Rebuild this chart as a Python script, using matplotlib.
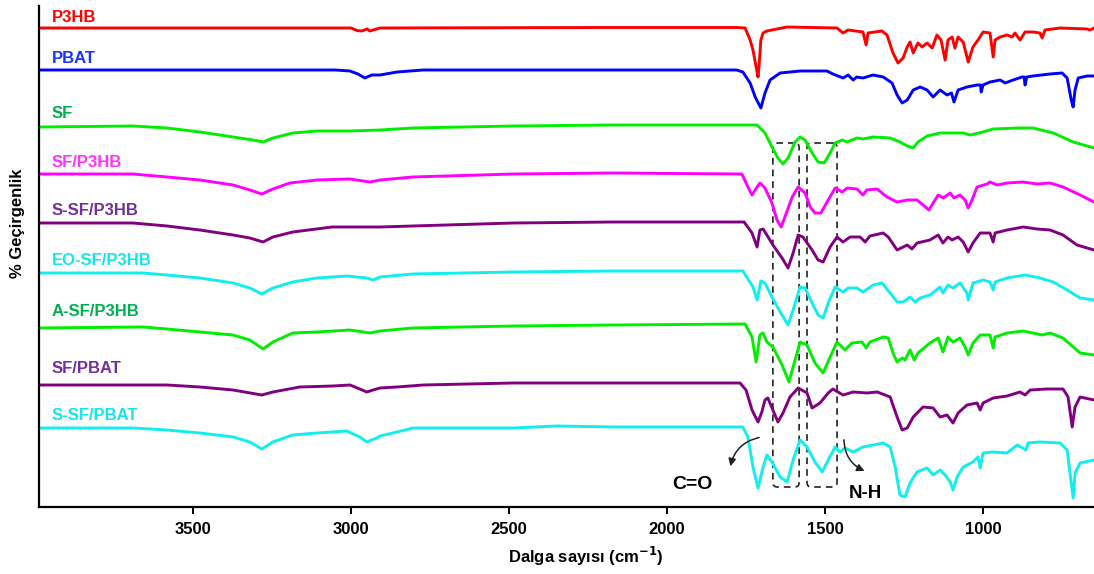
import matplotlib
matplotlib.use("Agg")
import matplotlib.pyplot as plt
import numpy as np
from matplotlib.patches import FancyBboxPatch

plt.rcParams['font.family'] = ['Liberation Sans', 'DejaVu Sans']
plt.rcParams['font.weight'] = 'bold'

# FTIR spectra, (wavenumber cm-1, stacked signal)
p3hb = [(3987, 28), (3100, 28), (3000, 28), (2981, 30.5), (2966, 31), (2949, 29), (2940, 31),
        (2908, 28), (2200, 27.5), (1780, 27.5), (1753, 28), (1737, 40), (1728, 50), (1718, 67),
        (1712, 77), (1709, 67), (1703, 40), (1696, 33), (1684, 31), (1620, 27), (1462, 28),
        (1443, 33), (1427, 30), (1380, 32), (1370, 45), (1364, 33), (1342, 32), (1320, 31),
        (1304, 35), (1285, 53), (1269, 63), (1253, 58), (1240, 47), (1231, 42), (1221, 53),
        (1206, 43), (1193, 47), (1177, 43), (1161, 48), (1146, 35), (1133, 40), (1120, 60),
        (1111, 40), (1098, 37), (1089, 48), (1079, 37), (1063, 42), (1047, 62), (1032, 47),
        (1016, 40), (1000, 32), (978, 33), (968, 57), (962, 40), (946, 37), (924, 35), (908, 37),
        (899, 33), (883, 40), (867, 32), (842, 32), (820, 33), (813, 38), (804, 30), (756, 28),
        (671, 29), (661, 30), (649, 28)]

pbat = [(3987, 70), (3400, 70), (3050, 70), (3003, 71), (2978, 74), (2956, 78), (2934, 75),
        (2908, 75), (2854, 72), (2772, 70), (1780, 70), (1760, 72), (1737, 83), (1721, 97),
        (1703, 108), (1690, 93), (1674, 80), (1642, 73), (1579, 71), (1494, 71), (1475, 74),
        (1443, 78), (1427, 75), (1411, 80), (1400, 77), (1380, 78), (1348, 75), (1316, 77),
        (1288, 83), (1272, 95), (1256, 103), (1240, 100), (1221, 90), (1199, 87), (1177, 90),
        (1158, 97), (1136, 90), (1114, 95), (1100, 93), (1092, 102), (1079, 90), (1051, 87),
        (1019, 85), (1008, 85), (1006, 92), (1000, 85), (978, 82), (946, 80), (930, 83),
        (905, 80), (877, 77), (870, 77), (867, 85), (862, 77), (842, 76), (788, 74), (750, 73),
        (734, 78), (721, 100), (715, 107), (709, 90), (699, 78), (671, 76), (649, 76)]

sf = [(3987, 127), (3690, 126), (3582, 128), (3478, 132), (3373, 137), (3310, 140), (3278, 142),
      (3247, 138), (3184, 133), (3108, 131), (3003, 131), (2908, 130), (2804, 128), (2487, 126),
      (2171, 125), (1715, 125), (1690, 133), (1668, 147), (1649, 158), (1633, 164), (1617, 158),
      (1595, 142), (1579, 137), (1563, 140), (1541, 153), (1522, 162), (1503, 163), (1484, 153),
      (1468, 143), (1446, 140), (1430, 142), (1399, 138), (1380, 139), (1348, 137), (1294, 138),
      (1263, 142), (1240, 146), (1221, 148), (1206, 142), (1177, 136), (1136, 133), (1100, 133),
      (1063, 133), (1041, 135), (1000, 132), (968, 129), (892, 128), (842, 128), (778, 133),
      (715, 142), (649, 148)]

sf_p3hb = [(3987, 174), (3690, 174), (3582, 177), (3478, 180), (3373, 185), (3320, 190),
           (3282, 194), (3247, 189), (3193, 183), (3108, 180), (3003, 179), (2940, 182),
           (2908, 180), (2804, 177), (2487, 174), (2171, 173), (1763, 174), (1744, 187),
           (1731, 195), (1715, 187), (1706, 183), (1690, 188), (1668, 203), (1652, 220),
           (1639, 227), (1627, 217), (1604, 197), (1585, 187), (1563, 193), (1547, 207),
           (1532, 213), (1513, 213), (1490, 200), (1468, 188), (1446, 192), (1430, 188),
           (1399, 189), (1380, 195), (1368, 190), (1335, 189), (1304, 197), (1272, 202),
           (1240, 200), (1209, 200), (1190, 205), (1171, 210), (1158, 203), (1142, 195),
           (1126, 198), (1104, 193), (1092, 198), (1073, 195), (1057, 200), (1047, 208),
           (1035, 200), (1019, 187), (987, 184), (978, 182), (956, 185), (924, 183), (873, 182),
           (829, 184), (788, 183), (747, 187), (693, 195), (649, 202)]

s_sf_p3hb = [(3987, 223), (3690, 223), (3582, 226), (3478, 230), (3373, 235), (3320, 238),
             (3278, 242), (3247, 237), (3184, 232), (3060, 227), (2908, 227), (2804, 226),
             (2487, 223), (2171, 222), (1756, 222), (1731, 233), (1715, 247), (1706, 230),
             (1696, 229), (1684, 235), (1665, 245), (1636, 258), (1617, 268), (1601, 253),
             (1585, 235), (1570, 237), (1541, 250), (1522, 260), (1506, 262), (1484, 247),
             (1462, 237), (1443, 242), (1421, 237), (1389, 237), (1373, 242), (1358, 236),
             (1316, 233), (1300, 237), (1272, 250), (1240, 245), (1225, 249), (1209, 243),
             (1168, 240), (1142, 235), (1127, 243), (1111, 237), (1098, 240), (1079, 237),
             (1063, 242), (1047, 252), (1032, 243), (1009, 233), (978, 233), (968, 242),
             (962, 233), (924, 230), (873, 227), (829, 229), (788, 230), (747, 235), (703, 245),
             (649, 250)]

eo_sf_p3hb = [(3987, 273), (3660, 273), (3582, 275), (3478, 278), (3373, 283), (3320, 288),
              (3282, 294), (3247, 288), (3184, 282), (3108, 278), (3013, 276), (2950, 278),
              (2930, 280), (2908, 277), (2804, 274), (2487, 272), (2171, 271), (1760, 271),
              (1728, 287), (1715, 300), (1703, 281), (1690, 283), (1668, 297), (1642, 312),
              (1617, 325), (1601, 310), (1579, 287), (1563, 288), (1541, 303), (1522, 315),
              (1506, 318), (1490, 303), (1468, 287), (1443, 292), (1427, 288), (1399, 288),
              (1380, 292), (1348, 285), (1320, 283), (1294, 293), (1272, 302), (1253, 302),
              (1231, 297), (1215, 302), (1199, 298), (1168, 295), (1136, 287), (1127, 293),
              (1111, 285), (1095, 288), (1073, 283), (1051, 293), (1047, 300), (1032, 283),
              (1000, 280), (978, 282), (968, 290), (962, 282), (924, 278), (867, 275),
              (820, 278), (778, 282), (734, 290), (693, 298), (649, 300)]

a_sf_p3hb = [(3987, 328), (3660, 327), (3582, 329), (3478, 332), (3373, 335), (3320, 340),
             (3278, 349), (3247, 342), (3184, 333), (3108, 332), (3003, 330), (2940, 333),
             (2908, 331), (2804, 328), (2487, 326), (2171, 325), (1753, 324), (1731, 337),
             (1718, 362), (1706, 335), (1696, 333), (1684, 342), (1665, 347), (1636, 365),
             (1614, 382), (1601, 367), (1579, 342), (1557, 345), (1532, 363), (1506, 373),
             (1484, 357), (1462, 342), (1437, 350), (1415, 343), (1383, 342), (1370, 348),
             (1358, 342), (1316, 337), (1300, 338), (1285, 353), (1272, 362), (1256, 358),
             (1247, 360), (1231, 350), (1218, 360), (1206, 353), (1168, 343), (1142, 338),
             (1127, 352), (1111, 337), (1095, 342), (1073, 338), (1057, 347), (1047, 355),
             (1032, 343), (1009, 335), (978, 335), (968, 348), (962, 337), (924, 333),
             (873, 331), (813, 335), (788, 333), (747, 338), (693, 353), (649, 355)]

sf_pbat = [(3987, 385), (3582, 385), (3478, 387), (3373, 390), (3282, 395), (3247, 392),
           (3162, 387), (3057, 386), (3003, 385), (2972, 389), (2950, 392), (2930, 390),
           (2908, 388), (2854, 387), (2772, 385), (2487, 383), (2171, 383), (1769, 383),
           (1750, 390), (1731, 410), (1712, 422), (1700, 412), (1690, 400), (1681, 398),
           (1665, 410), (1649, 422), (1633, 413), (1611, 397), (1585, 388), (1557, 393),
           (1541, 408), (1516, 403), (1490, 393), (1475, 389), (1443, 395), (1411, 392),
           (1367, 393), (1335, 392), (1294, 397), (1272, 417), (1256, 430), (1240, 428),
           (1221, 417), (1190, 407), (1158, 408), (1136, 417), (1114, 415), (1095, 423),
           (1079, 413), (1051, 405), (1019, 403), (1009, 410), (1000, 403), (968, 398),
           (924, 396), (883, 392), (867, 395), (851, 390), (797, 389), (747, 389), (731, 397),
           (718, 427), (709, 407), (693, 397), (649, 400)]

s_sf_pbat = [(3987, 428), (3690, 428), (3582, 430), (3478, 433), (3373, 437), (3320, 442),
             (3282, 449), (3247, 442), (3184, 435), (3108, 433), (3013, 431), (2972, 437),
             (2950, 442), (2918, 438), (2908, 436), (2854, 432), (2804, 428), (2487, 428),
             (2347, 426), (2171, 427), (1760, 427), (1744, 437), (1728, 467), (1712, 488),
             (1696, 467), (1684, 455), (1668, 462), (1642, 477), (1620, 482), (1601, 460),
             (1579, 440), (1557, 447), (1532, 462), (1509, 472), (1490, 460), (1468, 447),
             (1453, 452), (1437, 448), (1411, 452), (1380, 447), (1348, 445), (1316, 443),
             (1294, 447), (1278, 467), (1263, 495), (1247, 497), (1231, 483), (1209, 472),
             (1177, 468), (1158, 475), (1136, 470), (1120, 475), (1104, 482), (1095, 490),
             (1082, 477), (1063, 467), (1032, 462), (1016, 457), (1009, 468), (1000, 453),
             (968, 452), (924, 453), (892, 445), (864, 450), (858, 443), (820, 442), (756, 443),
             (734, 450), (721, 483), (715, 498), (709, 473), (693, 463), (649, 460)]

names = ["P3HB", "PBAT", "SF", "SF/P3HB", "S-SF/P3HB", "EO-SF/P3HB", "A-SF/P3HB",
         "SF/PBAT", "S-SF/PBAT"]
spectra = [p3hb, pbat, sf, sf_p3hb, s_sf_p3hb, eo_sf_p3hb, a_sf_p3hb, sf_pbat, s_sf_pbat]
line_colors = ["#ff0000", "#0000ff", "#00ee00", "#ff00ff", "#800080", "#11eeee", "#00ee00",
               "#800080", "#11eeee"]
label_colors = ["#ff0000", "#1a33ff", "#00b050", "#ff33ff", "#7030a0", "#11e6f0", "#00b050",
                "#7030a0", "#11e6f0"]
label_y = [22, 63, 118, 167, 215, 265, 316, 373, 420]

# amide I / amide II boxes (wavenumber span) and their vertical extent
boxes = [(1665, 1582), (1557, 1462)]
box_top, box_bottom = 143, 487

fig = plt.figure(figsize=(10.94, 5.74), dpi=100)
ax = fig.add_axes([39 / 1094, 67 / 574, 1055 / 1094, 501 / 574])

for spec, col in zip(spectra, line_colors):
    wn, sig = np.array(spec).T
    ax.plot(wn, sig, color=col, lw=2.1, solid_joinstyle='round')

for name, col, yy in zip(names, label_colors, label_y):
    ax.text(3946, yy, name, color=col, fontsize=12, fontweight='bold', va='baseline')

ax.set_xlim(3987, 649)
ax.set_ylim(507, 6)

for x_hi, x_lo in boxes:
    ax.add_patch(FancyBboxPatch((x_lo, box_top), x_hi - x_lo, box_bottom - box_top,
                                boxstyle="round,pad=0,rounding_size=14",
                                mutation_aspect=0.32, fill=False, ls=(0, (4, 3)),
                                lw=1.2, ec='#222222'))

ax.annotate('', xy=(1801, 469), xytext=(1700, 437),
            arrowprops=dict(arrowstyle='-|>', connectionstyle='arc3,rad=0.35',
                            color='#222222', lw=1.1, mutation_scale=11))
ax.annotate('', xy=(1367, 472), xytext=(1440, 437),
            arrowprops=dict(arrowstyle='-|>', connectionstyle='arc3,rad=0.35',
                            color='#222222', lw=1.1, mutation_scale=11))
ax.text(1921, 489, "C=O", fontsize=14, fontweight='bold', ha='center', va='baseline')
ax.text(1373, 498, "N-H", fontsize=13.5, fontweight='bold', ha='center', va='baseline')

ax.set_xticks([3500, 3000, 2500, 2000, 1500, 1000])
ax.set_yticks([])
for s in ['top', 'right']:
    ax.spines[s].set_visible(False)
for s in ['left', 'bottom']:
    ax.spines[s].set_linewidth(1.6)
ax.tick_params(axis='x', direction='out', length=5, width=1.4, pad=6, labelsize=12)
for lab in ax.get_xticklabels():
    lab.set_fontweight('bold')

fig.text(586 / 1094, 1 - 556 / 574, "Dalga sayısı (cm$^{\\mathbf{-1}}$)", fontsize=12,
         fontweight='bold', ha='center', va='center')
fig.text(17.5 / 1094, 1 - 223 / 574, "% Geçirgenlik", fontsize=12, fontweight='bold',
         rotation=90, ha='center', va='center')

fig.savefig("out.png", dpi=100)
